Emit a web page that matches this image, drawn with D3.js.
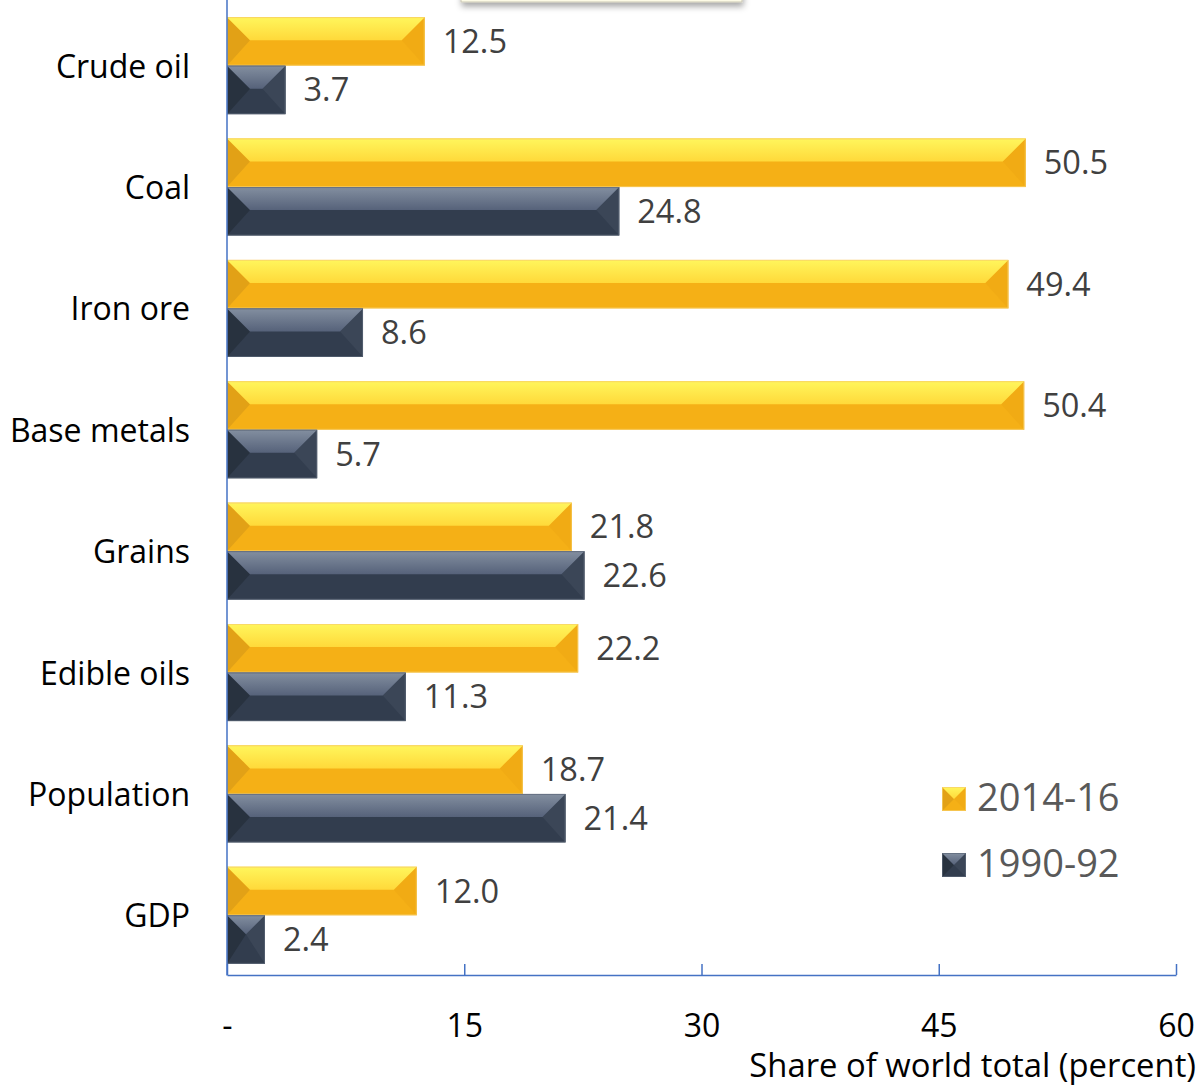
<!DOCTYPE html>
<html>
<head>
<meta charset="utf-8">
<script src="https://cdn.jsdelivr.net/npm/d3@7"></script>
<style>
  html, body { margin: 0; padding: 0; background: #fff; }
  svg { display: block; font-family: "Open Sans", "DejaVu Sans", sans-serif; }
</style>
</head>
<body>
<svg id="chart" width="1201" height="1087"></svg>
<script>
// Commodity and macro shares, percent of world total
const categories = ["Crude oil", "Coal", "Iron ore", "Base metals", "Grains", "Edible oils", "Population", "GDP"];
const recent = [12.5, 50.5, 49.4, 50.4, 21.8, 22.2, 18.7, 12.0];   // 2014-16
const early  = [3.7, 24.8, 8.6, 5.7, 22.6, 11.3, 21.4, 2.4];       // 1990-92
const seriesNames = ["2014-16", "1990-92"];
const tickValues = [0, 15, 30, 45, 60];
const tickLabels = ["-", "15", "30", "45", "60"];
const axisTitle = "Share of world total (percent)";

const svg = d3.select("#chart");

const x = d3.scaleLinear().domain([0, 60]).range([227, 1176]);
const y = d3.scaleBand().domain(categories).range([5, 976]).paddingInner(0.2).paddingOuter(0.1);
const sub = d3.scaleBand().domain(seriesNames).range([0, y.bandwidth()]);

// Bevelled bar palettes
const palettes = {
  "2014-16": { main: "#f5b016", left: "#e2a116", right: "#f1ab14", topA: "#fff65c", topB: "#ffd93a", edge: "#f7cf6a" },
  "1990-92": { main: "#323d4e", left: "#28323f", right: "#3b4657", topA: "#838fa0", topB: "#56627a", edge: "#5b6678" }
};

const defs = svg.append("defs");
Object.entries(palettes).forEach(([name, p], i) => {
  const g = defs.append("linearGradient").attr("id", "top" + i).attr("x1", 0).attr("y1", 0).attr("x2", 0).attr("y2", 1);
  g.append("stop").attr("offset", "0%").attr("stop-color", p.topA);
  g.append("stop").attr("offset", "100%").attr("stop-color", p.topB);
  p.grad = "url(#top" + i + ")";
});
const shadow = defs.append("filter").attr("id", "boxShadow").attr("x", "-10%").attr("y", "-10%").attr("width", "120%").attr("height", "160%");
shadow.append("feDropShadow").attr("dx", 1).attr("dy", 4).attr("stdDeviation", 3).attr("flood-color", "#000").attr("flood-opacity", 0.35);

// Framed note box running off the top edge
svg.append("rect")
  .attr("x", 461).attr("y", -60).attr("width", 281).attr("height", 62)
  .attr("fill", "#fdfbe6").attr("stroke", "#c9c6b4").attr("stroke-width", 1)
  .attr("filter", "url(#boxShadow)");

function bevelBar(g, x0, y0, w, h, p) {
  const x1 = x0 + w, y1 = y0 + h;
  const d = Math.min(23, w / 2, h / 2);
  const ym = y0 + d;
  g.append("rect").attr("x", x0).attr("y", y0).attr("width", w).attr("height", h).attr("fill", p.main);
  g.append("polygon").attr("points", [[x0, y0], [x0 + d, ym], [x0, y1]].join(" ")).attr("fill", p.left);
  g.append("polygon").attr("points", [[x1, y0], [x1 - d, ym], [x1, y1]].join(" ")).attr("fill", p.right);
  g.append("polygon").attr("points", [[x0, y0], [x1, y0], [x1 - d, ym], [x0 + d, ym]].join(" ")).attr("fill", p.grad);
  g.append("rect").attr("x", x0 + 0.5).attr("y", y0 + 0.5).attr("width", Math.max(0, w - 1)).attr("height", h - 1)
    .attr("fill", "none").attr("stroke", p.edge).attr("stroke-width", 1).attr("stroke-opacity", 0.7);
}

const rows = categories.map((c, i) => ({ cat: c, vals: [recent[i], early[i]] }));
const barsG = svg.append("g");
rows.forEach(r => {
  r.vals.forEach((v, k) => {
    const s = seriesNames[k];
    const y0 = y(r.cat) + sub(s);
    const h = sub.bandwidth();
    bevelBar(barsG, x(0), y0, x(v) - x(0), h, palettes[s]);
    barsG.append("text")
      .attr("x", x(v) + 18).attr("y", y0 + h / 2 + 11.5)
      .attr("font-size", 32.5).attr("fill", "#404040")
      .text(d3.format(".1f")(v));
  });
});

// Category labels
svg.append("g").selectAll("text").data(categories).join("text")
  .attr("x", 190).attr("y", d => y(d) + y.bandwidth() / 2 + 12)
  .attr("text-anchor", "end").attr("font-size", 32).attr("fill", "#000")
  .text(d => d);

// Axes
const axisColor = "#4472c4";
svg.append("line").attr("x1", x(0)).attr("x2", x(0)).attr("y1", 0).attr("y2", 975.5)
  .attr("stroke", axisColor).attr("stroke-width", 1.5);
const xAxis = d3.axisBottom(x).tickValues(tickValues).tickSizeInner(-11).tickSizeOuter(0)
  .tickFormat((d, i) => tickLabels[i]);
const xg = svg.append("g").attr("transform", "translate(0,975)").call(xAxis);
xg.select(".domain").attr("stroke", axisColor).attr("stroke-width", 1.5);
xg.selectAll(".tick line").attr("stroke", axisColor).attr("stroke-width", 1.5);
xg.selectAll(".tick text").attr("font-family", "'Open Sans', sans-serif").attr("font-size", 32)
  .attr("fill", "#000").attr("dy", 0).attr("y", 62);

svg.append("text").attr("x", 1196).attr("y", 1077).attr("text-anchor", "end")
  .attr("font-size", 32.8).attr("fill", "#000").text(axisTitle);

// Legend
const legend = svg.append("g");
seriesNames.forEach((s, k) => {
  const ly = 787 + k * 66;
  bevelBar(legend, 942, ly, 24, 24, palettes[s]);
  legend.append("text").attr("x", 977).attr("y", ly + 24)
    .attr("font-size", 38).attr("fill", "#595959").text(s);
});
</script>
</body>
</html>
